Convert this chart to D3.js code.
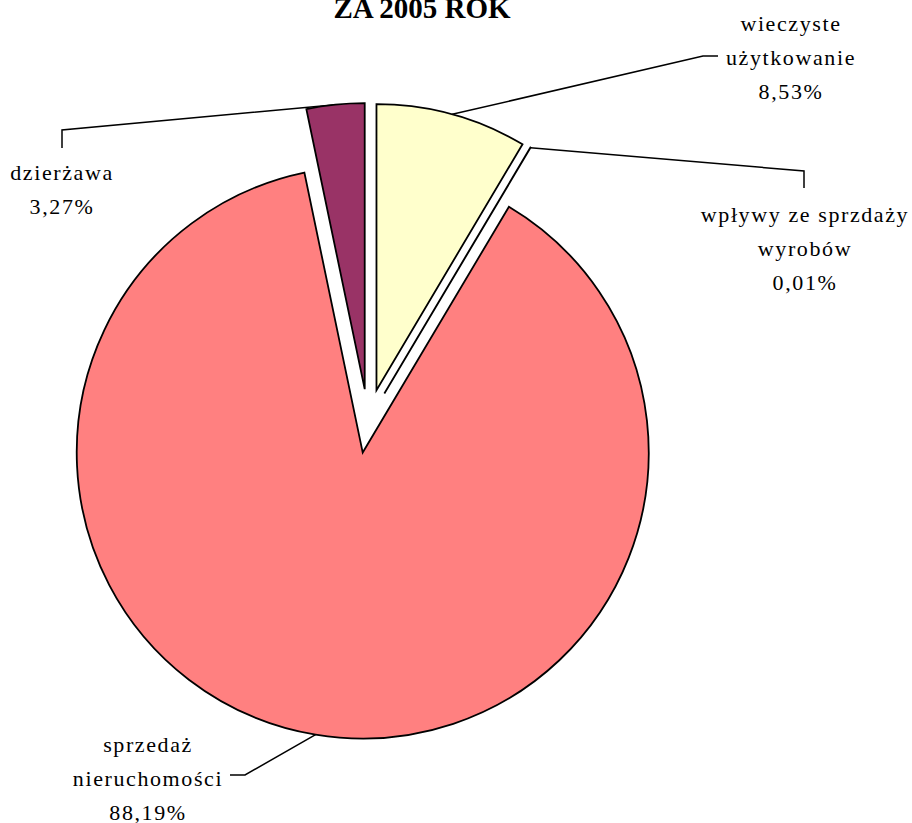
<!DOCTYPE html>
<html><head><meta charset="utf-8">
<script src="https://cdn.jsdelivr.net/npm/d3@7"></script>
<style>body{margin:0;background:#fff}svg{display:block}</style>
</head><body>
<script>
const categories = ["wieczyste użytkowanie", "wpływy ze sprzdaży wyrobów", "sprzedaż nieruchomości", "dzierżawa"];
const values = [8.53, 0.01, 88.19, 3.27];
const labelLines = [["wieczyste", "użytkowanie", "8,53%"], ["wpływy ze sprzdaży", "wyrobów", "0,01%"], ["sprzedaż", "nieruchomości", "88,19%"], ["dzierżawa", "3,27%"]];
const colors = ["#FFFFCC", "#CCFFFF", "#FF8080", "#993366"];
const title = "ZA 2005 ROK";

const W = 912, H = 823;
const FONT = "Liberation Serif";
const cx = 368, cy = 421, R = 286, explode = 32;
// label layout: text center x, first baseline, elbow points
const layout = [
  {x: 791, y: 31, elbow: [[703, 56], [718, 56]]},
  {x: 805, y: 222, elbow: [[804, 171], [804, 188]]},
  {x: 148, y: 752, elbow: [[245, 775], [230, 775]]},
  {x: 62, y: 180, elbow: [[62, 130], [62, 148]]}
];

const svg = d3.select("body").append("svg").attr("width", W).attr("height", H);
svg.append("text").attr("x", 422).attr("y", 18).attr("text-anchor", "middle")
  .style("font-family", FONT).style("font-weight", "bold").style("font-size", "29px").text(title);

const pie = d3.pie().sort(null).value(d => d)(values);
const arc = d3.arc().innerRadius(0).outerRadius(R);

const g = svg.append("g");
const offs = pie.map(p => {
  const m = (p.startAngle + p.endAngle) / 2;
  return [cx + explode * Math.sin(m), cy - explode * Math.cos(m), m];
});

// leader lines
pie.forEach((p, i) => {
  const [ox, oy, m] = offs[i];
  const start = [ox + R * Math.sin(m), oy - R * Math.cos(m)];
  const pts = [start, ...layout[i].elbow];
  g.append("path").attr("d", d3.line()(pts)).attr("fill", "none")
    .attr("stroke", "#000").attr("stroke-width", 1.5);
});

// slices
pie.forEach((p, i) => {
  const [ox, oy] = offs[i];
  g.append("path").attr("transform", `translate(${ox},${oy})`).attr("d", arc(p))
    .attr("fill", colors[i]).attr("stroke", "#000").attr("stroke-width", 1.8)
    .attr("stroke-linejoin", "miter");
});

// labels
labelLines.forEach((lines, i) => {
  lines.forEach((s, j) => svg.append("text").attr("text-anchor", "middle")
    .attr("x", layout[i].x).attr("y", layout[i].y + j * 34)
    .style("font-family", FONT).style("font-size", "22px").style("letter-spacing", "1.6px")
    .style("fill", "#000").text(s));
});
</script>
</body></html>
